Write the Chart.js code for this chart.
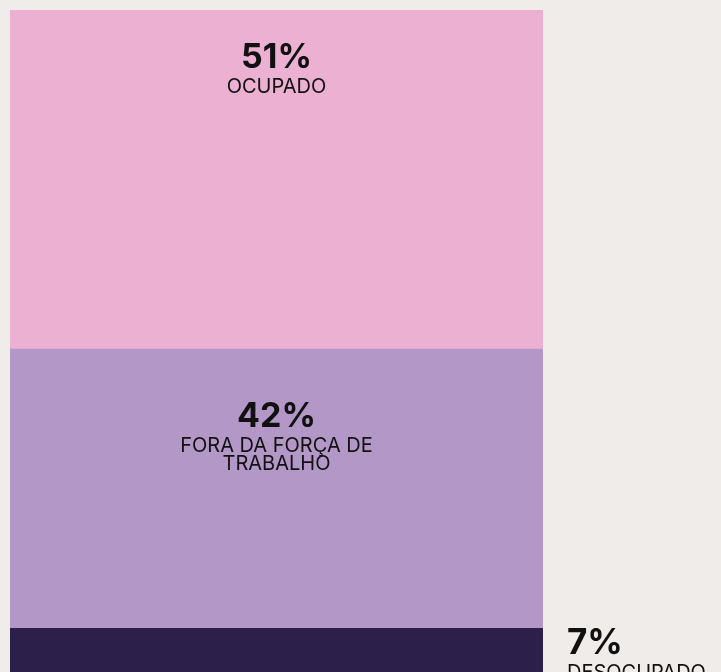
<!DOCTYPE html>
<html>
<head>
<meta charset="utf-8">
<script src="https://cdn.jsdelivr.net/npm/chart.js@4"></script>
<style>
  html, body { margin: 0; padding: 0; background: #f0ecea; overflow: hidden; }
  #wrap { position: relative; width: 721px; height: 675px; }
</style>
</head>
<body>
<div id="wrap"><canvas id="c"></canvas></div>
<script>
const categories = ["Total"];
const seriesNames = ["DESOCUPADO", "FORA DA FORÇA DE TRABALHO", "OCUPADO"];
const seriesValues = [7, 42, 51];
const seriesLabels = [["DESOCUPADO"], ["FORA DA FORÇA DE", "TRABALHO"], ["OCUPADO"]];
const seriesColors = ["#2c204a", "#b397c7", "#ebb0d2"];

const labelPlugin = {
  id: 'segLabels',
  afterDatasetsDraw(chart, args, opts) {
    const ctx = chart.ctx;
    ctx.save();
    chart.data.datasets.forEach((ds, i) => {
      const el = chart.getDatasetMeta(i).data[0];
      if (!el) return;
      const top = Math.min(el.y, el.base);
      const place = opts.placement[i];
      let x, y, align;
      if (place.outside) {
        x = el.x + el.width / 2 + place.dx;
        y = top + place.dy;
        align = 'left';
      } else {
        x = el.x;
        y = top + place.dy;
        align = 'center';
      }
      ctx.fillStyle = '#111111';
      ctx.textAlign = align;
      ctx.textBaseline = 'alphabetic';
      ctx.font = 'bold ' + place.big + 'px Inter';
      ctx.fillText(seriesValues[i] + '%', x, y);
      ctx.font = '20px Inter';
      seriesLabels[i].forEach((line, k) => {
        ctx.fillText(line, x, y + 25 + k * 18);
      });
    });
    ctx.restore();
  }
};

new Chart(document.getElementById('c'), {
  type: 'bar',
  data: {
    labels: categories,
    datasets: seriesNames.map((n, i) => ({
      label: n,
      data: [seriesValues[i]],
      backgroundColor: seriesColors[i],
      borderWidth: 0,
      barPercentage: 1,
      categoryPercentage: 1
    }))
  },
  options: {
    responsive: true,
    maintainAspectRatio: false,
    animation: false,
    layout: { padding: { left: 10, right: 178, top: 10, bottom: 0 } },
    scales: {
      x: { stacked: true, display: false },
      y: { stacked: true, display: false, min: 0, max: 100 }
    },
    plugins: {
      legend: { display: false },
      tooltip: { enabled: false },
      segLabels: {
        placement: [
          { outside: true, dx: 24, dy: 26, big: 35 },
          { outside: false, dy: 78, big: 34 },
          { outside: false, dy: 58, big: 34 }
        ]
      }
    }
  },
  plugins: [labelPlugin]
});
</script>
</body>
</html>
